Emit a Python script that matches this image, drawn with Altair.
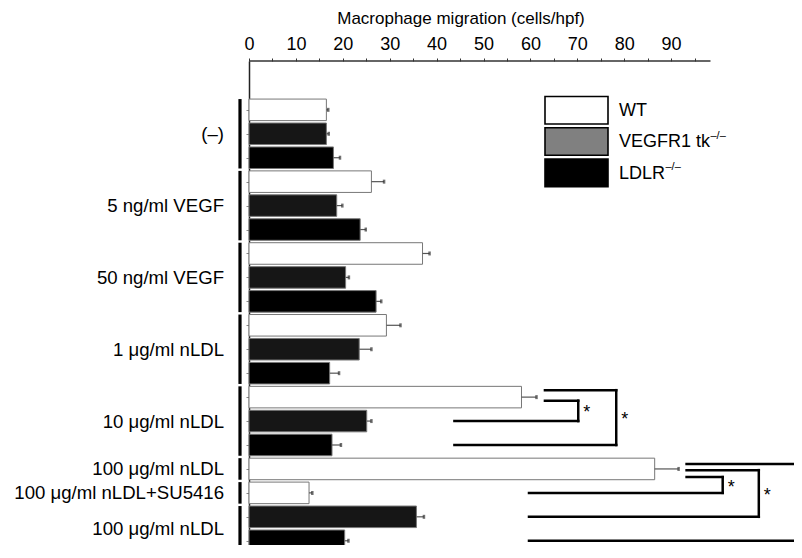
import altair as alt
import pandas as pd

# ---------------- data ----------------
group_labels = ["(–)", "5 ng/ml VEGF", "50 ng/ml VEGF", "1 μg/ml nLDL",
                "10 μg/ml nLDL", "100 μg/ml nLDL", "100 μg/ml nLDL+SU5416",
                "100 μg/ml nLDL"]
group_genotypes = [["WT", "VEGFR1", "LDLR"]] * 5 + [["WT"], ["WT"], ["VEGFR1", "LDLR"]]
bar_values = [16.5, 16.5, 18.0, 26.1, 18.7, 23.7, 37.0, 20.6, 27.1, 29.3,
              23.5, 17.2, 58.1, 25.1, 17.7, 86.5, 12.8, 35.7, 20.4]
bar_errors = [0.4, 0.5, 1.4, 2.7, 1.2, 1.2, 1.5, 0.7, 1.1, 3.0,
              2.6, 2.0, 3.2, 1.0, 1.9, 5.1, 0.7, 1.6, 0.8]
genotypes = ["WT", "VEGFR1", "LDLR"]
bar_fill = ["#ffffff", "#161616", "#000000"]
legend_labels = ["WT", "VEGFR1 tk", "LDLR"]
legend_sup = ["", "–/–", "–/–"]
legend_fill = ["#ffffff", "#808080", "#000000"]
x_tick_values = list(range(0, 100, 5))
x_axis_end = 98.4
title_text = "Macrophage migration (cells/hpf)"

# significance brackets (bar index from -> to, x positions in data units)
br_from = [12, 12, 15, 15, 15]
br_to = [13, 14, 16, 17, 18]
br_top_shift = [0.15, -0.29, 0.34, 0.05, -0.21]
br_top_x = [63.1, 63.1, 93.3, 93.3, 93.3]
br_vert_x = [70.2, 78.3, 101.0, 108.7, 117.6]
br_bottom_x = [43.8, 43.8, 59.7, 59.7, 59.7]
br_star = ["*", "*", "*", "*", ""]

# ---------------- tables ----------------
rows, groups = [], []
i = 0
for lab, gens in zip(group_labels, group_genotypes):
    start = i
    for gen in gens:
        rows.append(dict(idx=i, genotype=gen, value=bar_values[i],
                         err=bar_values[i] + bar_errors[i],
                         lo=i - 0.45, hi=i + 0.45))
        i += 1
    groups.append(dict(label=lab, mid=(start + i - 1) / 2,
                       lo=start - 0.45, hi=i - 1 + 0.45))
bars = pd.DataFrame(rows)
grp = pd.DataFrame(groups)

segs, stars = [], []
for k in range(len(br_from)):
    yt = br_from[k] + br_top_shift[k]
    yb = br_to[k]
    segs += [dict(x=br_top_x[k], x2=br_vert_x[k], y=yt, y2=yt),
             dict(x=br_vert_x[k], x2=br_vert_x[k], y=yt, y2=yb),
             dict(x=br_bottom_x[k], x2=br_vert_x[k], y=yb, y2=yb)]
    if br_star[k]:
        stars.append(dict(x=br_vert_x[k] + 1.8, y=(yt + yb) / 2 - 0.1, t=br_star[k]))
segs = pd.DataFrame(segs)
stars = pd.DataFrame(stars)

# ---------------- scales / axes ----------------
FONT = "Liberation Sans"
PAD_L, PAD_T = 241, 53
PLOT_W = 786 - PAD_L          # keep page width within the window
PLOT_H = 537 - PAD_T          # keep page height within the window
XPX = 4.69                    # pixels per x unit
STEP = 23.94                  # pixels per bar
Y0 = -2.04
xscale = alt.Scale(domain=[0, PLOT_W / XPX], nice=False, zero=False)
yscale = alt.Scale(domain=[Y0, Y0 + PLOT_H / STEP], reverse=True, nice=False, zero=False)
xax = alt.Axis(orient="top", values=x_tick_values,
               labelExpr="datum.value % 10 == 0 ? datum.label : ''",
               domain=False, grid=False, tickSize=3, tickColor="#333",
               tickWidth=1, labelFontSize=18, labelPadding=5, labelFont=FONT,
               labelColor="black", labelOverlap=False, labelFlush=False, title=None)
yax = alt.Axis(values=list(range(len(bar_values))), labels=False, grid=False,
               tickSize=3, tickColor="#888", domain=True, domainColor="#222",
               domainWidth=1.5, title=None)

X = lambda f: alt.X(f, scale=xscale, axis=xax)
Y = lambda f: alt.Y(f, scale=yscale, axis=yax)

bar_layer = alt.Chart(bars).mark_rect(stroke="#777", strokeWidth=1).encode(
    x=X("value:Q"), x2=alt.datum(0),
    y=Y("lo:Q"), y2="hi:Q",
    fill=alt.Fill("genotype:N", scale=alt.Scale(domain=genotypes, range=bar_fill), legend=None),
)
err_layer = alt.Chart(bars).mark_rule(color="#555", strokeWidth=1.2).encode(
    x=X("value:Q"), x2="err:Q", y=Y("idx:Q"))
cap_layer = alt.Chart(bars).mark_tick(orient="vertical", size=4, thickness=2.5, color="#333").encode(
    x=X("err:Q"), y=Y("idx:Q"))
group_line = alt.Chart(grp).mark_rule(color="black", strokeWidth=3.2).encode(
    x=alt.value(-9), y=Y("lo:Q"), y2="hi:Q")
group_text = alt.Chart(grp).mark_text(align="right", baseline="alphabetic", dy=6.5,
                                      fontSize=18.6, font=FONT, color="black").encode(
    x=alt.value(-25), y=Y("mid:Q"), text="label:N")
bracket = alt.Chart(segs).mark_rule(color="black", strokeWidth=2.5, strokeCap="square").encode(
    x=X("x:Q"), x2="x2:Q", y=Y("y:Q"), y2="y2:Q")
star_layer = alt.Chart(stars).mark_text(fontSize=18, baseline="alphabetic", dy=10,
                                        font=FONT, color="black").encode(
    x=X("x:Q"), y=Y("y:Q"), text="t:N")
top_line = alt.Chart(pd.DataFrame({"a": [0], "b": [x_axis_end]})).mark_rule(
    color="#333", strokeWidth=1.5).encode(x=X("a:Q"), x2="b:Q", y=alt.value(0))
title_layer = alt.Chart(pd.DataFrame({"t": [title_text]})).mark_text(
    fontSize=17, baseline="alphabetic", font=FONT, color="black").encode(
    x=alt.value(212), y=alt.value(-36.7), text="t:N")

layers = [bar_layer, err_layer, cap_layer, group_line, group_text, bracket,
          star_layer, top_line, title_layer]

# legend (manual, to show grey swatch for VEGFR1)
sup_x = [0, 461.5, 416.5]
for r in range(len(legend_labels)):
    top = 35.5 + 31.3 * r
    d = pd.DataFrame({"t": [legend_labels[r]], "s": [legend_sup[r]]})
    layers.append(alt.Chart(d).mark_rect(stroke="black", strokeWidth=1.6).encode(
        x=alt.value(296), x2=alt.value(359), y=alt.value(top), y2=alt.value(top + 27.5),
        fill=alt.value(legend_fill[r])))
    layers.append(alt.Chart(d).mark_text(align="left", baseline="alphabetic", fontSize=18,
                                         font=FONT, color="black").encode(
        x=alt.value(370), y=alt.value(top + 19.5), text="t:N"))
    if legend_sup[r]:
        layers.append(alt.Chart(d).mark_text(align="left", baseline="alphabetic", fontSize=11,
                                             font=FONT, color="black").encode(
            x=alt.value(sup_x[r]), y=alt.value(top + 11), text="s:N"))

chart = alt.layer(*layers).properties(
    width=PLOT_W, height=PLOT_H,
    autosize=alt.AutoSizeParams(type="none"),
    padding={"left": PAD_L, "top": PAD_T, "right": 0, "bottom": 0},
).configure_view(stroke=None)

chart.save("out.html", embed_options={"renderer": "svg", "actions": False})
